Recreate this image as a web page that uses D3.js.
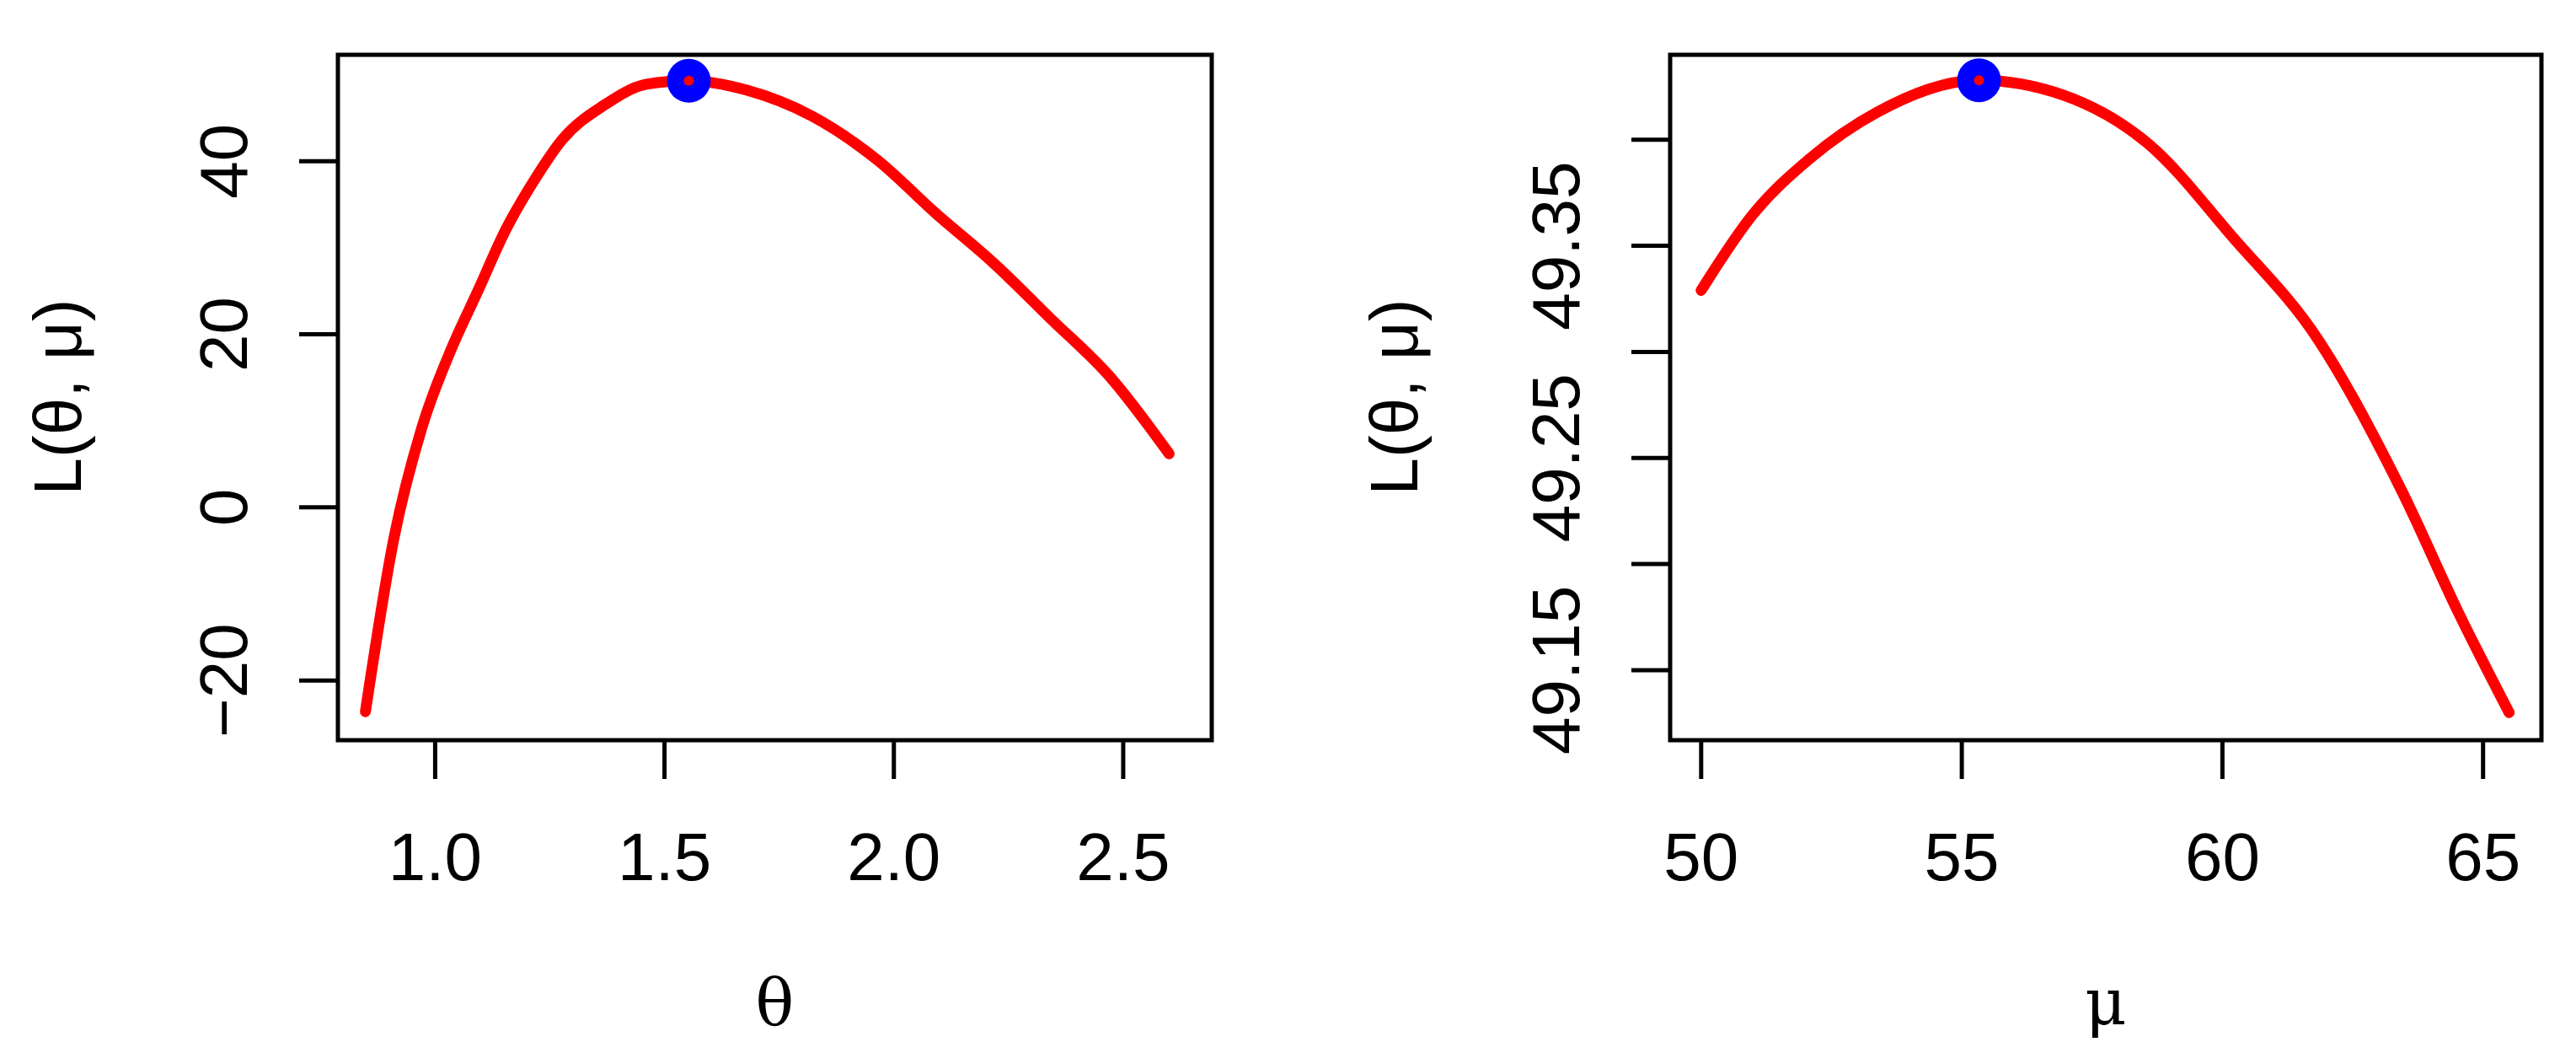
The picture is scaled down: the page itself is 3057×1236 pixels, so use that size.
<!DOCTYPE html>
<html><head><meta charset="utf-8">
<script src="https://cdn.jsdelivr.net/npm/d3@7"></script>
<style>body{margin:0;background:#fff}svg{display:block}</style></head>
<body><svg id="c" width="3057" height="1236"></svg>
<script>
const thetaX=[0.848,0.910,0.971,1.032,1.093,1.155,1.216,1.277,1.369,1.461,1.553,1.680,1.822,1.965,2.091,2.218,2.344,2.471,2.600];
const thetaY=[-23.6,-3.6,9.2,17.9,25.0,32.2,37.8,42.5,46.5,48.9,49.3,48.2,45.2,40.1,34.0,28.2,21.7,15.1,6.2];
const thetaTicksX=[1.0,1.5,2.0,2.5];
const thetaTicksY=[-20,0,20,40];
const muX=[50,51.0,52.08,53.38,55.33,56.95,58.58,60.2,61.83,63.45,64.53,65.5];
const muY=[49.329,49.365,49.391,49.413,49.428,49.421,49.398,49.354,49.306,49.234,49.177,49.130];
const muTicksX=[50,55,60,65];
const muTicksY=[49.15,49.20,49.25,49.30,49.35,49.40];
const muLabelsY=[49.15,49.25,49.35];
const peaks=[[1.553,49.3],[55.33,49.428]];

const svg=d3.select("#c");
const F="'Liberation Sans',Arial,sans-serif";
function panel(o){
  const x=d3.scaleLinear().domain(o.xd).range([o.l,o.r]);
  const y=d3.scaleLinear().domain(o.yd).range([878,65]);
  const g=svg.append("g");
  const line=d3.line().x((d,i)=>x(o.xs[i])).y(d=>y(d)).curve(d3.curveMonotoneX);
  g.append("path").attr("d",line(o.ys)).attr("fill","none").attr("stroke","#ff0000").attr("stroke-width",13).attr("stroke-linecap","round");
  g.append("circle").attr("cx",x(o.peak[0])).attr("cy",y(o.peak[1])).attr("r",26).attr("fill","#0000ff");
  g.append("circle").attr("cx",x(o.peak[0])).attr("cy",y(o.peak[1])).attr("r",6).attr("fill","#ff0000");
  g.append("rect").attr("x",o.l).attr("y",65).attr("width",o.r-o.l).attr("height",813).attr("fill","none").attr("stroke","#000").attr("stroke-width",5);
  o.tx.forEach(t=>{
    g.append("line").attr("x1",x(t)).attr("x2",x(t)).attr("y1",878).attr("y2",924).attr("stroke","#000").attr("stroke-width",5);
    g.append("text").attr("x",x(t)).attr("y",1044).attr("text-anchor","middle").attr("font-family",F).attr("font-size",80).text(o.fmtX(t));
  });
  o.ty.forEach(t=>{
    g.append("line").attr("x1",o.l).attr("x2",o.l-46).attr("y1",y(t)).attr("y2",y(t)).attr("stroke","#000").attr("stroke-width",5);
  });
  o.ly.forEach(t=>{
    g.append("text").attr("transform",`translate(${o.l-108},${y(t)}) rotate(-90)`).attr("text-anchor","middle").attr("font-family",F).attr("font-size",80).text(o.fmtY(t));
  });
  g.append("text").attr("transform",`translate(${o.yl},${471}) rotate(-90)`).attr("text-anchor","middle").attr("font-family",F).attr("font-size",80).text("L(θ, μ)");
  g.append("text").attr("x",(o.l+o.r)/2).attr("y",1215).attr("text-anchor","middle").attr("font-family","'DejaVu Serif',serif").attr("font-size",76).text(o.xl);
}
panel({l:401,r:1438,xd:[0.788,2.693],yd:[-26.9,52.3],xs:thetaX,ys:thetaY,tx:thetaTicksX,ty:thetaTicksY,ly:thetaTicksY,
  fmtX:d3.format(".1f"),fmtY:d=>d3.format("d")(d).replace("-","−"),peak:peaks[0],yl:96,xl:"θ"});
panel({l:1982,r:3016,xd:[49.405,66.12],yd:[49.117,49.44],xs:muX,ys:muY,tx:muTicksX,ty:muTicksY,ly:muLabelsY,
  fmtX:d3.format("d"),fmtY:d3.format(".2f"),peak:peaks[1],yl:1682,xl:"μ"});
</script></body></html>
